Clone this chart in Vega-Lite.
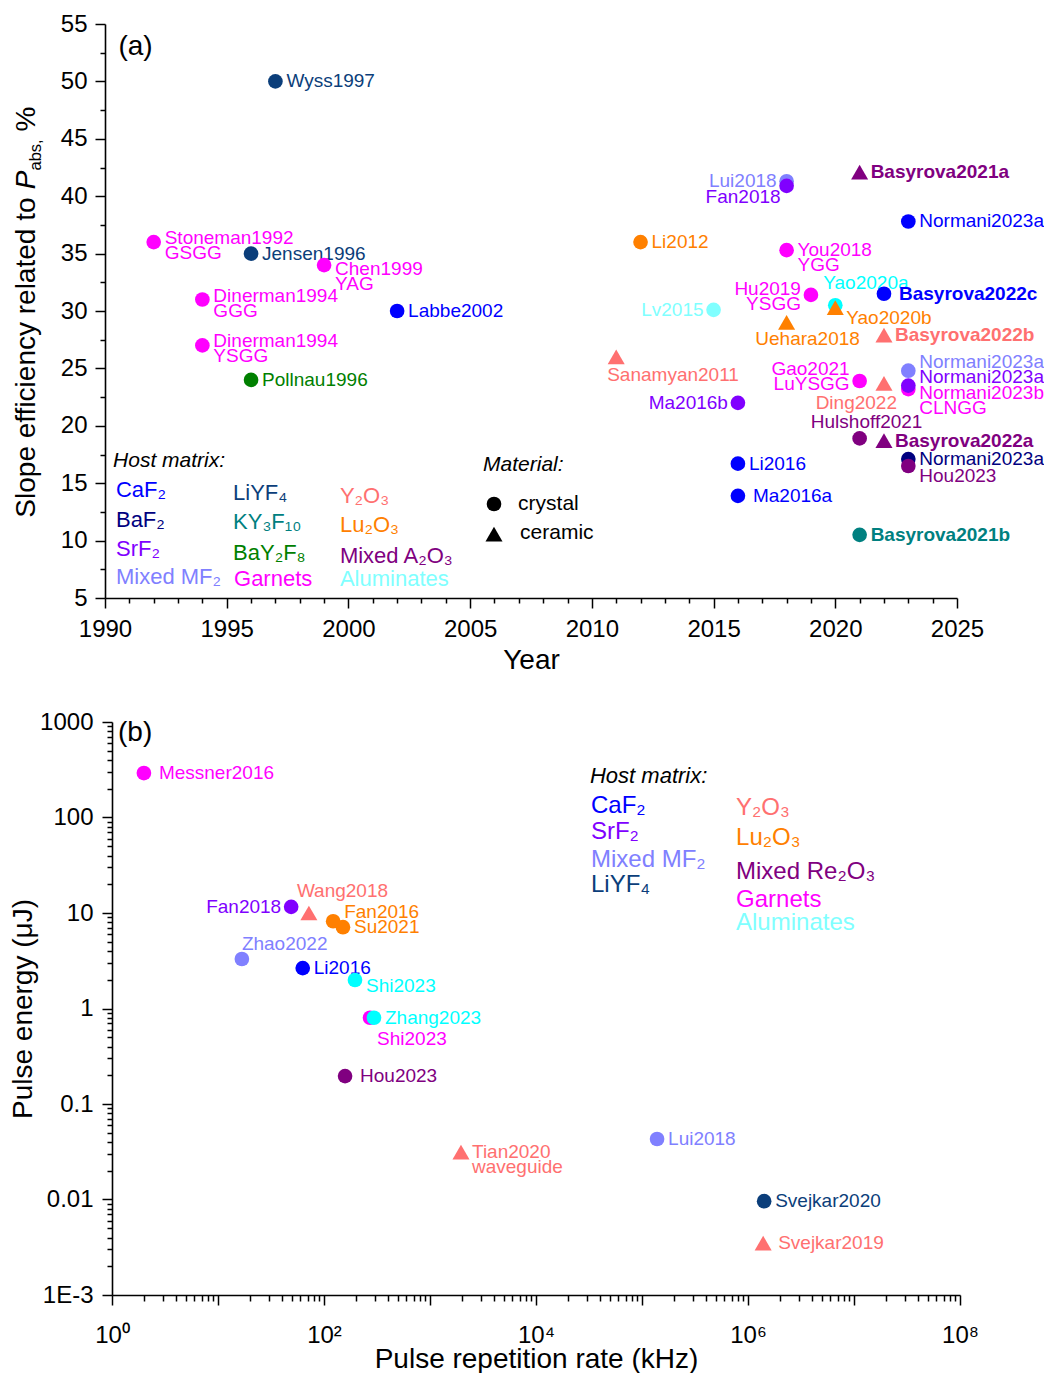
{
  "$schema": "https://vega.github.io/schema/vega-lite/v6.json",
  "background": "white",
  "padding": {"left": 9, "top": 12, "right": 0, "bottom": 0},
  "config": {
    "view": {"stroke": null},
    "font": "Liberation Sans",
    "legend": {"disable": true},
    "axis": {
      "grid": false, "domainColor": "black", "tickColor": "black", "labelColor": "black", "titleColor": "black",
      "domainWidth": 1.6, "tickWidth": 1.5, "labelFont": "Liberation Sans", "titleFont": "Liberation Sans",
      "labelFontSize": 24, "titleFontSize": 28, "titleFontWeight": "normal", "labelOverlap": false, "labelFlush": false, "labelBound": false
    }
  },
  "datasets": {
    "pa": [
      {"label": "Wyss1997", "year": 1997, "eff": 50.0, "host": "LiYF4", "mat": "crystal", "pos": "r"},
      {"label": "Stoneman1992\nGSGG", "year": 1992, "eff": 36.0, "host": "Garnets", "mat": "crystal", "pos": "rm"},
      {"label": "Jensen1996", "year": 1996, "eff": 35.0, "host": "LiYF4", "mat": "crystal", "pos": "r"},
      {"label": "Chen1999\nYAG", "year": 1999, "eff": 34.0, "host": "Garnets", "mat": "crystal", "pos": "rs"},
      {"label": "Dinerman1994\nGGG", "year": 1994, "eff": 31.0, "host": "Garnets", "mat": "crystal", "pos": "rm"},
      {"label": "Dinerman1994\nYSGG", "year": 1994, "eff": 27.0, "host": "Garnets", "mat": "crystal", "pos": "rm"},
      {"label": "Pollnau1996", "year": 1996, "eff": 24.0, "host": "BaY2F8", "mat": "crystal", "pos": "r"},
      {"label": "Labbe2002", "year": 2002, "eff": 30.0, "host": "CaF2", "mat": "crystal", "pos": "r"},
      {"label": "Sanamyan2011", "year": 2011, "eff": 26.0, "host": "Y2O3", "mat": "ceramic", "pos": "bl"},
      {"label": "Li2012", "year": 2012, "eff": 36.0, "host": "Lu2O3", "mat": "crystal", "pos": "r"},
      {"label": "Lv2015", "year": 2015, "eff": 30.1, "host": "Aluminates", "mat": "crystal", "pos": "l"},
      {"label": "Li2016", "year": 2016, "eff": 16.7, "host": "CaF2", "mat": "crystal", "pos": "r"},
      {"label": "Ma2016a", "year": 2016, "eff": 13.9, "host": "CaF2", "mat": "crystal", "pos": "rr"},
      {"label": "Ma2016b", "year": 2016, "eff": 22.0, "host": "SrF2", "mat": "crystal", "pos": "l"},
      {"label": "Lui2018", "year": 2018, "eff": 41.3, "host": "MixedMF2", "mat": "crystal", "pos": "l"},
      {"label": "Fan2018", "year": 2018, "eff": 40.9, "host": "SrF2", "mat": "crystal", "pos": "ld"},
      {"label": "You2018\nYGG", "year": 2018, "eff": 35.3, "host": "Garnets", "mat": "crystal", "pos": "r"},
      {"label": "Uehara2018", "year": 2018, "eff": 29.0, "host": "Lu2O3", "mat": "ceramic", "pos": "bc"},
      {"label": "Hu2019\nYSGG", "year": 2019, "eff": 31.4, "host": "Garnets", "mat": "crystal", "pos": "lu"},
      {"label": "Yao2020a", "year": 2020, "eff": 30.5, "host": "Aluminates2", "mat": "crystal", "pos": "al"},
      {"label": "Yao2020b", "year": 2020, "eff": 30.3, "host": "Lu2O3", "mat": "ceramic", "pos": "rd"},
      {"label": "Gao2021\nLuYSGG", "year": 2021, "eff": 23.9, "host": "Garnets", "mat": "crystal", "pos": "lm"},
      {"label": "Ding2022", "year": 2022, "eff": 23.7, "host": "Y2O3", "mat": "ceramic", "pos": "br"},
      {"label": "Hulshoff2021", "year": 2021, "eff": 18.9, "host": "MixedA2O3", "mat": "crystal", "pos": "ac"},
      {"label": "Basyrova2021a", "year": 2021, "eff": 42.1, "host": "MixedA2O3", "mat": "ceramic", "pos": "r"},
      {"label": "Basyrova2021b", "year": 2021, "eff": 10.5, "host": "KY3F10", "mat": "crystal", "pos": "r"},
      {"label": "Basyrova2022c", "year": 2022, "eff": 31.5, "host": "CaF2", "mat": "crystal", "pos": "rr"},
      {"label": "Basyrova2022b", "year": 2022, "eff": 27.9, "host": "Y2O3", "mat": "ceramic", "pos": "r"},
      {"label": "Basyrova2022a", "year": 2022, "eff": 18.7, "host": "MixedA2O3", "mat": "ceramic", "pos": "r"},
      {"label": "Normani2023a", "year": 2023, "eff": 37.8, "host": "CaF2", "mat": "crystal", "pos": "r"},
      {"label": "Normani2023a", "year": 2023, "eff": 24.8, "host": "MixedMF2", "mat": "crystal", "pos": "ru"},
      {"label": "Normani2023b\nCLNGG", "year": 2023, "eff": 23.2, "host": "Garnets", "mat": "crystal", "pos": "rs"},
      {"label": "Normani2023a", "year": 2023, "eff": 23.5, "host": "SrF2", "mat": "crystal", "pos": "ru"},
      {"label": "Normani2023a", "year": 2023, "eff": 17.1, "host": "BaF2", "mat": "crystal", "pos": "r"},
      {"label": "Hou2023", "year": 2023, "eff": 16.5, "host": "MixedA2O3", "mat": "crystal", "pos": "rd"}
    ],
    "pb": [
      {"label": "Messner2016", "rate": 2.0, "energy": 292, "host": "Garnets", "mat": "crystal", "pos": "rr"},
      {"label": "Fan2018", "rate": 49, "energy": 11.6, "host": "SrF2", "mat": "crystal", "pos": "l"},
      {"label": "Wang2018", "rate": 72, "energy": 10.0, "host": "Y2O3", "mat": "ceramic", "pos": "al"},
      {"label": "Fan2016", "rate": 122, "energy": 8.2, "host": "Lu2O3", "mat": "crystal", "pos": "ru"},
      {"label": "Su2021", "rate": 151, "energy": 7.1, "host": "Lu2O3", "mat": "crystal", "pos": "r"},
      {"label": "Zhao2022", "rate": 16.8, "energy": 3.3, "host": "MixedMF2", "mat": "crystal", "pos": "au"},
      {"label": "Li2016", "rate": 63, "energy": 2.65, "host": "CaF2", "mat": "crystal", "pos": "r"},
      {"label": "Shi2023", "rate": 196, "energy": 1.99, "host": "Aluminates2", "mat": "crystal", "pos": "rd"},
      {"label": "Shi2023", "rate": 272, "energy": 0.80, "host": "Garnets", "mat": "crystal", "pos": "bs"},
      {"label": "Zhang2023", "rate": 296, "energy": 0.80, "host": "Aluminates2", "mat": "crystal", "pos": "r"},
      {"label": "Hou2023", "rate": 158, "energy": 0.196, "host": "MixedA2O3", "mat": "crystal", "pos": "rr"},
      {"label": "Tian2020\nwaveguide", "rate": 1960, "energy": 0.0314, "host": "Y2O3", "mat": "ceramic", "pos": "r"},
      {"label": "Lui2018", "rate": 138700, "energy": 0.043, "host": "MixedMF2", "mat": "crystal", "pos": "r"},
      {"label": "Svejkar2020", "rate": 1420000, "energy": 0.0096, "host": "LiYF4", "mat": "crystal", "pos": "r"},
      {"label": "Svejkar2019", "rate": 1390000, "energy": 0.0035, "host": "Y2O3", "mat": "ceramic", "pos": "rr"}
    ],
    "la": [
      {"text": "CaF₂", "year": 1990.45, "eff": 14.4, "host": "CaF2"},
      {"text": "BaF₂", "year": 1990.45, "eff": 11.8, "host": "BaF2"},
      {"text": "SrF₂", "year": 1990.45, "eff": 9.27, "host": "SrF2"},
      {"text": "Mixed MF₂", "year": 1990.45, "eff": 6.83, "host": "MixedMF2"},
      {"text": "LiYF₄", "year": 1995.26, "eff": 14.15, "host": "LiYF4"},
      {"text": "KY₃F₁₀", "year": 1995.26, "eff": 11.6, "host": "KY3F10"},
      {"text": "BaY₂F₈", "year": 1995.26, "eff": 8.9, "host": "BaY2F8"},
      {"text": "Garnets", "year": 1995.3, "eff": 6.65, "host": "Garnets"},
      {"text": "Y₂O₃", "year": 1999.65, "eff": 13.9, "host": "Y2O3"},
      {"text": "Lu₂O₃", "year": 1999.65, "eff": 11.36, "host": "Lu2O3"},
      {"text": "Mixed A₂O₃", "year": 1999.65, "eff": 8.66, "host": "MixedA2O3"},
      {"text": "Aluminates", "year": 1999.65, "eff": 6.65, "host": "Aluminates"}
    ],
    "lb": [
      {"text": "CaF₂", "rate": 33000, "energy": 132, "host": "CaF2"},
      {"text": "SrF₂", "rate": 33000, "energy": 70.5, "host": "SrF2"},
      {"text": "Mixed MF₂", "rate": 33000, "energy": 35.9, "host": "MixedMF2"},
      {"text": "LiYF₄", "rate": 33000, "energy": 19.6, "host": "LiYF4"},
      {"text": "Y₂O₃", "rate": 771000, "energy": 125.8, "host": "Y2O3"},
      {"text": "Lu₂O₃", "rate": 771000, "energy": 61, "host": "Lu2O3"},
      {"text": "Mixed Re₂O₃", "rate": 771000, "energy": 26.9, "host": "MixedA2O3"},
      {"text": "Garnets", "rate": 771000, "energy": 13.7, "host": "Garnets"},
      {"text": "Aluminates", "rate": 771000, "energy": 7.86, "host": "Aluminates"}
    ]
  },
  "align": "none",
  "spacing": 36,
  "vconcat": [
    {
      "width": 852,
      "height": 574,
      "layer": [
        {
          "data": {"name": "pa"},
          "mark": {
            "type": "text", "fontSize": 19, "baseline": "middle", "lineBreak": "\n", "lineHeight": 15,
            "align": {"expr": "['left','left','left','left','right','right','right','left','center','right','left','center','left','left','left','left','right'][indexof(['r','rr','rd','ru','l','ld','lu','bl','bc','br','al','ac','au','bs','rm','rs','lm'], datum.pos)]"},
            "dx": {"expr": "[11,15,11,11,-10,-6,-10,-9,21,13,-12,7,0,7,11,11,-10][indexof(['r','rr','rd','ru','l','ld','lu','bl','bc','br','al','ac','au','bs','rm','rs','lm'], datum.pos)]"},
            "dy": {"expr": "[0,0,10,-9,0,11,-6,18,17,20,-22,-16,-15,21,-4,4,-12][indexof(['r','rr','rd','ru','l','ld','lu','bl','bc','br','al','ac','au','bs','rm','rs','lm'], datum.pos)]"},
            "fontWeight": {"expr": "indexof(datum.label, 'Basyrova') === 0 ? 'bold' : 'normal'"}
          },
          "encoding": {
            "x": {
              "field": "year", "type": "quantitative",
              "scale": {"domain": [1990, 2025], "nice": false, "zero": false},
              "axis": {
                "title": "Year",
                "values": [1990,1991,1992,1993,1994,1995,1996,1997,1998,1999,2000,2001,2002,2003,2004,2005,2006,2007,2008,2009,2010,2011,2012,2013,2014,2015,2016,2017,2018,2019,2020,2021,2022,2023,2024,2025],
                "tickCount": 1000,
                "labelExpr": "datum.value % 5 === 0 ? toString(datum.value) : ''",
                "tickSize": {"condition": {"test": "datum.value % 5 === 0", "value": 10}, "value": 5},
                "labelOverlap": false,
                "labelPadding": 9, "titlePadding": 5
              }
            },
            "y": {
              "field": "eff", "type": "quantitative",
              "scale": {"domain": [5, 55], "nice": false, "zero": false},
              "axis": {
                "title": null,
                "values": [5,7.5,10,12.5,15,17.5,20,22.5,25,27.5,30,32.5,35,37.5,40,42.5,45,47.5,50,52.5,55],
                "tickCount": 1000,
                "labelExpr": "datum.value % 5 === 0 ? toString(datum.value) : ''",
                "tickSize": {"condition": {"test": "datum.value % 5 === 0", "value": 10}, "value": 5},
                "labelOverlap": false,
                "labelPadding": 8
              }
            },
            "text": {"field": "label"},
            "color": {
              "field": "host", "type": "nominal", "legend": null,
              "scale": {
                "domain": ["CaF2","BaF2","SrF2","MixedMF2","LiYF4","KY3F10","BaY2F8","Y2O3","Lu2O3","MixedA2O3","Garnets","Aluminates","Aluminates2"],
                "range": ["#0000ff","#000080","#8000ff","#8080ff","#0b3e7a","#008080","#008000","#ff7070","#ff8000","#800080","#ff00ff","#80ffff","#00ffff"]
              }
            }
          }
        },
        {
          "data": {"name": "pa"},
          "mark": {"type": "point", "filled": true, "opacity": 1},
          "encoding": {
            "x": {"field": "year", "type": "quantitative"},
            "y": {"field": "eff", "type": "quantitative"},
            "color": {"field": "host", "type": "nominal", "legend": null},
            "shape": {"field": "mat", "type": "nominal", "legend": null, "scale": {"domain": ["crystal", "ceramic"], "range": ["circle", "triangle-up"]}},
            "size": {"field": "mat", "type": "nominal", "legend": null, "scale": {"domain": ["crystal", "ceramic"], "range": [215, 290]}}
          }
        },
        {
          "data": {"name": "la"},
          "mark": {"type": "text", "fontSize": 22, "align": "left", "baseline": "middle"},
          "encoding": {
            "x": {"field": "year", "type": "quantitative"},
            "y": {"field": "eff", "type": "quantitative"},
            "text": {"field": "text"},
            "color": {"field": "host", "type": "nominal", "legend": null}
          }
        },
        {
          "data": {"values": [{"text": "Host matrix:", "year": 1990.33, "eff": 16.93}, {"text": "Material:", "year": 2005.53, "eff": 16.59}]},
          "mark": {"type": "text", "fontSize": 21, "fontStyle": "italic", "align": "left", "baseline": "middle", "color": "black"},
          "encoding": {
            "x": {"field": "year", "type": "quantitative"},
            "y": {"field": "eff", "type": "quantitative"},
            "text": {"field": "text"}
          }
        },
        {
          "data": {"values": [{"text": "crystal", "year": 2006.97, "eff": 13.19}, {"text": "ceramic", "year": 2007.05, "eff": 10.66}]},
          "mark": {"type": "text", "fontSize": 21, "align": "left", "baseline": "middle", "color": "black"},
          "encoding": {
            "x": {"field": "year", "type": "quantitative"},
            "y": {"field": "eff", "type": "quantitative"},
            "text": {"field": "text"}
          }
        },
        {
          "data": {"values": [{"mat": "crystal", "year": 2005.98, "eff": 13.19}, {"mat": "ceramic", "year": 2005.98, "eff": 10.57}]},
          "mark": {"type": "point", "filled": true, "opacity": 1, "color": "black"},
          "encoding": {
            "x": {"field": "year", "type": "quantitative"},
            "y": {"field": "eff", "type": "quantitative"},
            "shape": {"field": "mat", "type": "nominal", "legend": null},
            "size": {"field": "mat", "type": "nominal", "legend": null}
          }
        },
        {
          "data": {"values": [{}]},
          "mark": {"type": "text", "fontSize": 28, "align": "left", "baseline": "middle", "color": "black"},
          "encoding": {"x": {"datum": 1990.55}, "y": {"datum": 53.0}, "text": {"value": "(a)"}}
        },
        {
          "data": {"values": [{}]},
          "mark": {"type": "text", "fontSize": 28, "angle": 270, "align": "left", "baseline": "middle", "color": "black"},
          "encoding": {"x": {"datum": 1986.8}, "y": {"datum": 12.0}, "text": {"value": "Slope efficiency related to"}}
        },
        {
          "data": {"values": [{}]},
          "mark": {"type": "text", "fontSize": 28, "fontStyle": "italic", "angle": 270, "align": "left", "baseline": "middle", "color": "black"},
          "encoding": {"x": {"datum": 1986.8}, "y": {"datum": 40.61}, "text": {"value": "P"}}
        },
        {
          "data": {"values": [{}]},
          "mark": {"type": "text", "fontSize": 16.5, "angle": 270, "align": "left", "baseline": "middle", "color": "black", "dy": 9},
          "encoding": {"x": {"datum": 1986.8}, "y": {"datum": 42.24}, "text": {"value": "abs,"}}
        },
        {
          "data": {"values": [{}]},
          "mark": {"type": "text", "fontSize": 28, "angle": 270, "align": "left", "baseline": "middle", "color": "black"},
          "encoding": {"x": {"datum": 1986.8}, "y": {"datum": 45.64}, "text": {"value": "%"}}
        }
      ]
    },
    {
      "width": 855,
      "height": 573,
      "layer": [
        {
          "data": {"name": "pb"},
          "mark": {
            "type": "text", "fontSize": 19, "baseline": "middle", "lineBreak": "\n", "lineHeight": 15,
            "align": {"expr": "['left','left','left','left','right','right','right','left','center','right','left','center','left','left'][indexof(['r','rr','rd','ru','l','ld','lu','bl','bc','br','al','ac','au','bs'], datum.pos)]"},
            "dx": {"expr": "[11,15,11,11,-10,-6,-10,-9,21,13,-12,7,0,7][indexof(['r','rr','rd','ru','l','ld','lu','bl','bc','br','al','ac','au','bs'], datum.pos)]"},
            "dy": {"expr": "[0,0,6,-9,0,11,-6,18,17,20,-22,-16,-15,21][indexof(['r','rr','rd','ru','l','ld','lu','bl','bc','br','al','ac','au','bs'], datum.pos)]"}
          },
          "encoding": {
            "x": {
              "field": "rate", "type": "quantitative",
              "scale": {"type": "log", "domain": [1, 100000000], "range": [7, 855], "nice": false},
              "axis": {
                "title": "Pulse repetition rate (kHz)",
                "values": [1,2,3,4,5,6,7,8,9,10,20,30,40,50,60,70,80,90,100,200,300,400,500,600,700,800,900,1e3,2e3,3e3,4e3,5e3,6e3,7e3,8e3,9e3,1e4,2e4,3e4,4e4,5e4,6e4,7e4,8e4,9e4,1e5,2e5,3e5,4e5,5e5,6e5,7e5,8e5,9e5,1e6,2e6,3e6,4e6,5e6,6e6,7e6,8e6,9e6,1e7,2e7,3e7,4e7,5e7,6e7,7e7,8e7,9e7,1e8],
                "tickCount": 1000,
                "labelExpr": "abs(log(datum.value)/LN10 - round(log(datum.value)/LN10)) < 0.01 && round(log(datum.value)/LN10) % 2 === 0 ? '10' + ['⁰','¹','²','³','⁴','⁵','⁶','⁷','⁸'][round(log(datum.value)/LN10)] : ''",
                "tickSize": {"condition": {"test": "abs(log(datum.value)/LN10 - round(log(datum.value)/LN10)) < 0.01", "value": 10}, "value": 6},
                "labelOverlap": false,
                "labelPadding": 18, "titlePadding": -2
              }
            },
            "y": {
              "field": "energy", "type": "quantitative",
              "scale": {"type": "log", "domain": [0.001, 1000], "nice": false},
              "axis": {
                "title": "Pulse energy (μJ)",
                "offset": -7,
                "values": [0.001,0.002,0.003,0.004,0.005,0.006,0.007,0.008,0.009,0.01,0.02,0.03,0.04,0.05,0.06,0.07,0.08,0.09,0.1,0.2,0.3,0.4,0.5,0.6,0.7,0.8,0.9,1,2,3,4,5,6,7,8,9,10,20,30,40,50,60,70,80,90,100,200,300,400,500,600,700,800,900,1000],
                "tickCount": 1000,
                "labelExpr": "abs(log(datum.value)/LN10 - round(log(datum.value)/LN10)) < 0.01 ? (datum.value < 0.005 ? '1E-3' : toString(datum.value)) : ''",
                "tickSize": {"condition": {"test": "abs(log(datum.value)/LN10 - round(log(datum.value)/LN10)) < 0.01", "value": 10}, "value": 5},
                "labelOverlap": false,
                "labelPadding": 9, "titlePadding": 2
              }
            },
            "text": {"field": "label"},
            "color": {
              "field": "host", "type": "nominal", "legend": null,
              "scale": {
                "domain": ["CaF2","BaF2","SrF2","MixedMF2","LiYF4","KY3F10","BaY2F8","Y2O3","Lu2O3","MixedA2O3","Garnets","Aluminates","Aluminates2"],
                "range": ["#0000ff","#000080","#8000ff","#8080ff","#0b3e7a","#008080","#008000","#ff7070","#ff8000","#800080","#ff00ff","#80ffff","#00ffff"]
              }
            }
          }
        },
        {
          "data": {"name": "pb"},
          "mark": {"type": "point", "filled": true, "opacity": 1},
          "encoding": {
            "x": {"field": "rate", "type": "quantitative"},
            "y": {"field": "energy", "type": "quantitative"},
            "color": {"field": "host", "type": "nominal", "legend": null},
            "shape": {"field": "mat", "type": "nominal", "legend": null, "scale": {"domain": ["crystal", "ceramic"], "range": ["circle", "triangle-up"]}},
            "size": {"field": "mat", "type": "nominal", "legend": null, "scale": {"domain": ["crystal", "ceramic"], "range": [195, 260]}}
          }
        },
        {
          "data": {"name": "lb"},
          "mark": {"type": "text", "fontSize": 24, "align": "left", "baseline": "middle"},
          "encoding": {
            "x": {"field": "rate", "type": "quantitative"},
            "y": {"field": "energy", "type": "quantitative"},
            "text": {"field": "text"},
            "color": {"field": "host", "type": "nominal", "legend": null}
          }
        },
        {
          "data": {"values": [{"text": "Host matrix:", "rate": 32300, "energy": 272}]},
          "mark": {"type": "text", "fontSize": 22, "fontStyle": "italic", "align": "left", "baseline": "middle", "color": "black"},
          "encoding": {
            "x": {"field": "rate", "type": "quantitative"},
            "y": {"field": "energy", "type": "quantitative"},
            "text": {"field": "text"}
          }
        },
        {
          "data": {"values": [{}]},
          "mark": {"type": "text", "fontSize": 28, "align": "left", "baseline": "middle", "color": "black"},
          "encoding": {"x": {"datum": 1.14}, "y": {"datum": 767}, "text": {"value": "(b)"}}
        }
      ]
    }
  ]
}
